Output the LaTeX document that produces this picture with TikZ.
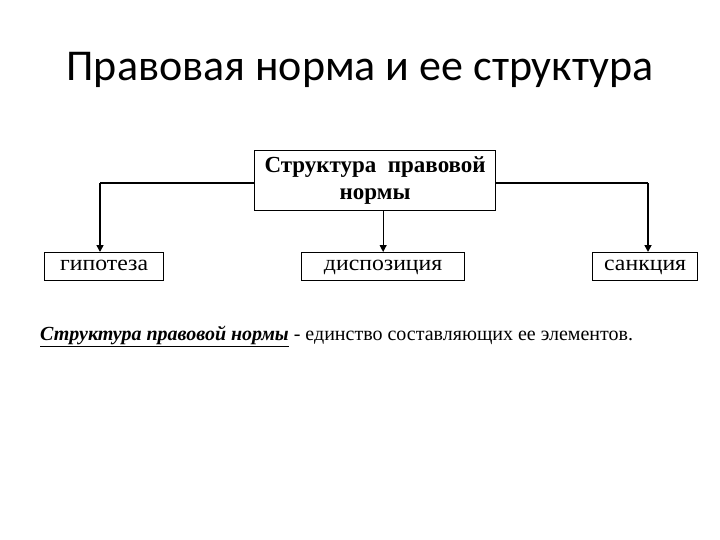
\documentclass[tikz,border=0pt]{standalone}
\usepackage{fontspec}
\setmainfont{Liberation Serif}
\newfontfamily\titlefont{Carlito}
\usetikzlibrary{arrows.meta}
\begin{document}
\begin{tikzpicture}[x=1pt,y=-1pt,
  boxstyle/.style={draw=black,line width=1.3pt,inner sep=0pt,anchor=north west},
  boxtext/.style={font=\fontsize{22}{24}\selectfont,xscale=1.08,inner sep=0pt},
  conn/.style={line width=1.8pt},
  arr/.style={line width=1.6pt,-{Triangle[length=7pt,width=7pt]}}]
\useasboundingbox (0,0) rectangle (720,540);
\node[font=\titlefont\fontsize{44}{52}\selectfont] (title) at (360,70) {Правовая норма и ее структура};
\node[boxstyle,minimum width=241pt,minimum height=60pt] (top) at (254,150) {};
\node[font=\bfseries\fontsize{23}{27}\selectfont,align=center] (toptext) at (top.center) {Структура\ \ правовой\\нормы};
\node[boxstyle,minimum width=119pt,minimum height=28pt] (hyp) at (44,252) {};
\node[boxtext] (hyptext) at ([yshift=1pt]hyp.center) {\strut гипотеза};
\node[boxstyle,minimum width=163pt,minimum height=28pt] (disp) at (301,252) {};
\node[boxtext] (disptext) at ([yshift=1pt]disp.center) {\strut диспозиция};
\node[boxstyle,minimum width=105pt,minimum height=28pt] (sanc) at (592,252) {};
\node[boxtext] (sanctext) at ([yshift=1pt]sanc.center) {\strut санкция};
\coordinate (lc) at (100,183);
\coordinate (rc) at (648,183);
\draw[conn] (top.west |- lc) -- (lc);
\draw[arr] (lc) -- (lc |- hyp.north);
\draw[conn] (top.east |- rc) -- (rc);
\draw[arr] (rc) -- (rc |- sanc.north);
\draw[arr,line width=1pt] (top.south -| disp.north) -- (disp.north);
\node[anchor=west,font=\fontsize{20}{24}\selectfont,inner sep=0pt] (def) at (40,336) {\textbf{\textit{\underline{Структура правовой нормы}}} - единство составляющих ее элементов.};
\end{tikzpicture}
\end{document}
